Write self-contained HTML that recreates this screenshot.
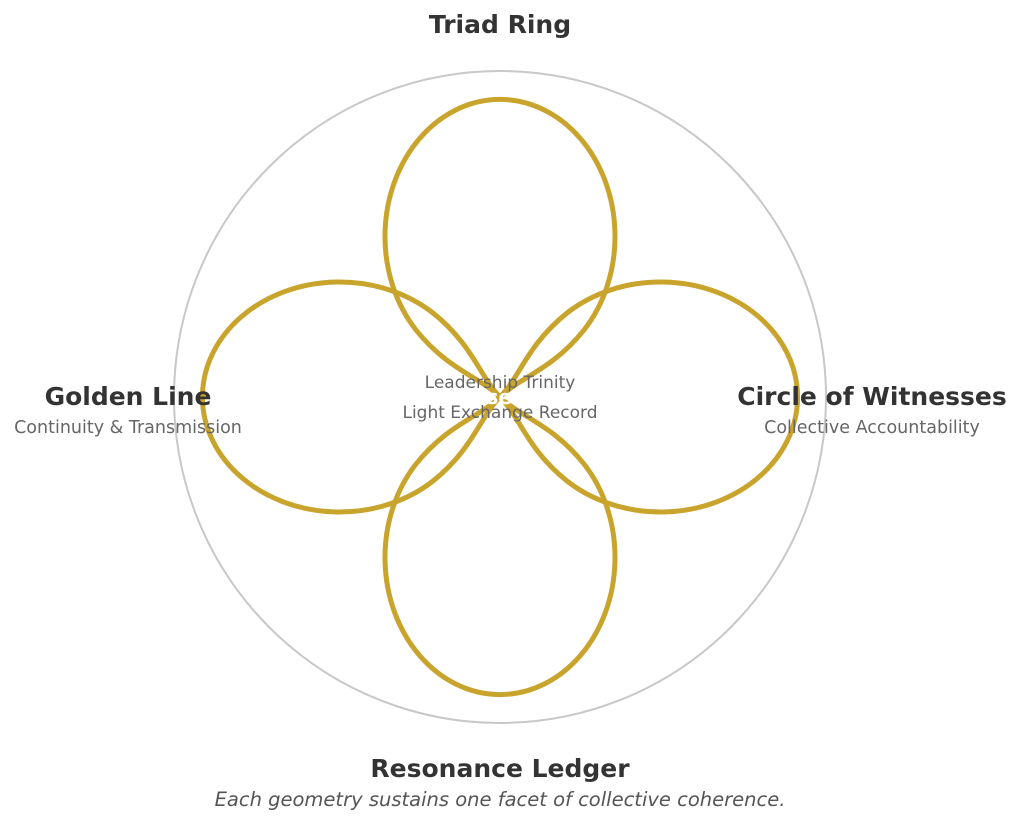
<!DOCTYPE html>
<html><head><style>
body{margin:0;background:#fff;width:1023px;height:824px;overflow:hidden}
svg text{font-family:"DejaVu Sans","Liberation Sans",sans-serif}
</style></head><body>
<svg width="1023" height="824" xmlns="http://www.w3.org/2000/svg">
<circle cx="500" cy="397" r="326" fill="none" stroke="#c8c8c8" stroke-width="2"/>
<g fill="none" stroke="#c9a42c" stroke-width="5">
<path d="M500,397 C480,377 448,370 416,330 A115,137 0 1 1 584,330 C552,370 520,377 500,397Z"/>
<path d="M500,397 C480,417 448,424 416,464 A115,137 0 1 0 584,464 C552,424 520,417 500,397Z"/>
<path d="M500,397 C480,377 473,345 433,313 A137,115 0 1 0 433,481 C473,449 480,417 500,397Z"/>
<path d="M500,397 C520,377 527,345 567,313 A137,115 0 1 1 567,481 C527,449 520,417 500,397Z"/>
</g>
<text x="500" y="404" text-anchor="middle" font-size="20" font-weight="bold" fill="#fff">Presence</text>
<text x="500" y="388" text-anchor="middle" font-size="17" fill="#666">Leadership Trinity</text>
<text x="500" y="418" text-anchor="middle" font-size="17" fill="#666">Light Exchange Record</text>
<text x="500" y="33" text-anchor="middle" font-size="25" font-weight="bold" fill="#333">Triad Ring</text>
<text x="128" y="405" text-anchor="middle" font-size="25" font-weight="bold" fill="#333">Golden Line</text>
<text x="128" y="433" text-anchor="middle" font-size="17.5" fill="#666">Continuity &amp; Transmission</text>
<text x="872" y="405" text-anchor="middle" font-size="25" font-weight="bold" fill="#333">Circle of Witnesses</text>
<text x="872" y="433" text-anchor="middle" font-size="17.5" fill="#666">Collective Accountability</text>
<text x="500" y="777" text-anchor="middle" font-size="25" font-weight="bold" fill="#333">Resonance Ledger</text>
<text x="500" y="806" text-anchor="middle" font-size="19.5" font-style="italic" fill="#555">Each geometry sustains one facet of collective coherence.</text>
</svg>
</body></html>
